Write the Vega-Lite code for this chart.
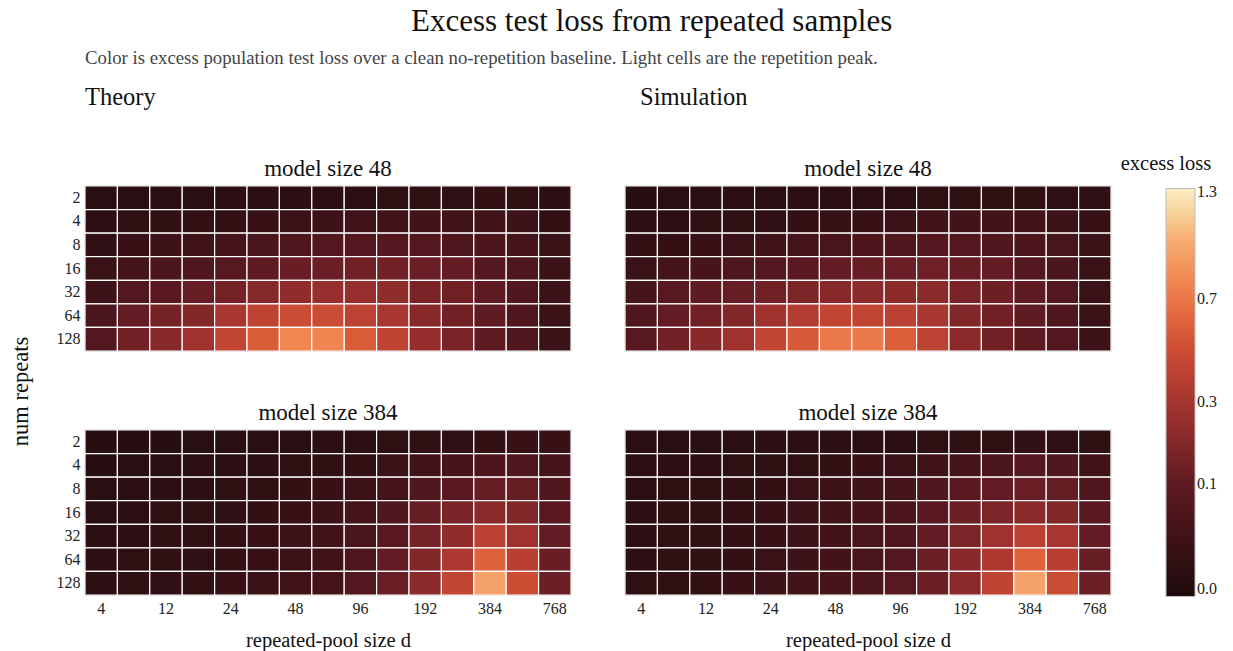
{
"$schema":"https://vega.github.io/schema/vega-lite/v6.json",
"background":"white",
"padding":{"left":8,"top":6,"right":5,"bottom":5},
"title":{"text":"Excess test loss from repeated samples","fontSize":31,"anchor":"middle","dx":39,"offset":11},
"datasets":{"cells":[
{"m":"Theory","s":48,"r":2,"d":4,"v":0.007},{"m":"Theory","s":48,"r":2,"d":8,"v":0.008},{"m":"Theory","s":48,"r":2,"d":12,"v":0.009},{"m":"Theory","s":48,"r":2,"d":16,"v":0.009},{"m":"Theory","s":48,"r":2,"d":24,"v":0.010},{"m":"Theory","s":48,"r":2,"d":32,"v":0.010},{"m":"Theory","s":48,"r":2,"d":48,"v":0.011},{"m":"Theory","s":48,"r":2,"d":64,"v":0.013},{"m":"Theory","s":48,"r":2,"d":96,"v":0.013},{"m":"Theory","s":48,"r":2,"d":128,"v":0.016},{"m":"Theory","s":48,"r":2,"d":192,"v":0.016},{"m":"Theory","s":48,"r":2,"d":256,"v":0.018},{"m":"Theory","s":48,"r":2,"d":384,"v":0.020},{"m":"Theory","s":48,"r":2,"d":512,"v":0.019},{"m":"Theory","s":48,"r":2,"d":768,"v":0.013},
{"m":"Theory","s":48,"r":4,"d":4,"v":0.012},{"m":"Theory","s":48,"r":4,"d":8,"v":0.014},{"m":"Theory","s":48,"r":4,"d":12,"v":0.017},{"m":"Theory","s":48,"r":4,"d":16,"v":0.020},{"m":"Theory","s":48,"r":4,"d":24,"v":0.022},{"m":"Theory","s":48,"r":4,"d":32,"v":0.027},{"m":"Theory","s":48,"r":4,"d":48,"v":0.030},{"m":"Theory","s":48,"r":4,"d":64,"v":0.034},{"m":"Theory","s":48,"r":4,"d":96,"v":0.038},{"m":"Theory","s":48,"r":4,"d":128,"v":0.042},{"m":"Theory","s":48,"r":4,"d":192,"v":0.043},{"m":"Theory","s":48,"r":4,"d":256,"v":0.040},{"m":"Theory","s":48,"r":4,"d":384,"v":0.040},{"m":"Theory","s":48,"r":4,"d":512,"v":0.035},{"m":"Theory","s":48,"r":4,"d":768,"v":0.022},
{"m":"Theory","s":48,"r":8,"d":4,"v":0.018},{"m":"Theory","s":48,"r":8,"d":8,"v":0.028},{"m":"Theory","s":48,"r":8,"d":12,"v":0.035},{"m":"Theory","s":48,"r":8,"d":16,"v":0.040},{"m":"Theory","s":48,"r":8,"d":24,"v":0.048},{"m":"Theory","s":48,"r":8,"d":32,"v":0.058},{"m":"Theory","s":48,"r":8,"d":48,"v":0.065},{"m":"Theory","s":48,"r":8,"d":64,"v":0.075},{"m":"Theory","s":48,"r":8,"d":96,"v":0.080},{"m":"Theory","s":48,"r":8,"d":128,"v":0.080},{"m":"Theory","s":48,"r":8,"d":192,"v":0.075},{"m":"Theory","s":48,"r":8,"d":256,"v":0.065},{"m":"Theory","s":48,"r":8,"d":384,"v":0.063},{"m":"Theory","s":48,"r":8,"d":512,"v":0.050},{"m":"Theory","s":48,"r":8,"d":768,"v":0.030},
{"m":"Theory","s":48,"r":16,"d":4,"v":0.030},{"m":"Theory","s":48,"r":16,"d":8,"v":0.045},{"m":"Theory","s":48,"r":16,"d":12,"v":0.060},{"m":"Theory","s":48,"r":16,"d":16,"v":0.070},{"m":"Theory","s":48,"r":16,"d":24,"v":0.085},{"m":"Theory","s":48,"r":16,"d":32,"v":0.100},{"m":"Theory","s":48,"r":16,"d":48,"v":0.120},{"m":"Theory","s":48,"r":16,"d":64,"v":0.125},{"m":"Theory","s":48,"r":16,"d":96,"v":0.140},{"m":"Theory","s":48,"r":16,"d":128,"v":0.140},{"m":"Theory","s":48,"r":16,"d":192,"v":0.125},{"m":"Theory","s":48,"r":16,"d":256,"v":0.110},{"m":"Theory","s":48,"r":16,"d":384,"v":0.080},{"m":"Theory","s":48,"r":16,"d":512,"v":0.065},{"m":"Theory","s":48,"r":16,"d":768,"v":0.032},
{"m":"Theory","s":48,"r":32,"d":4,"v":0.035},{"m":"Theory","s":48,"r":32,"d":8,"v":0.075},{"m":"Theory","s":48,"r":32,"d":12,"v":0.090},{"m":"Theory","s":48,"r":32,"d":16,"v":0.115},{"m":"Theory","s":48,"r":32,"d":24,"v":0.150},{"m":"Theory","s":48,"r":32,"d":32,"v":0.195},{"m":"Theory","s":48,"r":32,"d":48,"v":0.230},{"m":"Theory","s":48,"r":32,"d":64,"v":0.250},{"m":"Theory","s":48,"r":32,"d":96,"v":0.250},{"m":"Theory","s":48,"r":32,"d":128,"v":0.225},{"m":"Theory","s":48,"r":32,"d":192,"v":0.165},{"m":"Theory","s":48,"r":32,"d":256,"v":0.140},{"m":"Theory","s":48,"r":32,"d":384,"v":0.100},{"m":"Theory","s":48,"r":32,"d":512,"v":0.070},{"m":"Theory","s":48,"r":32,"d":768,"v":0.033},
{"m":"Theory","s":48,"r":64,"d":4,"v":0.060},{"m":"Theory","s":48,"r":64,"d":8,"v":0.110},{"m":"Theory","s":48,"r":64,"d":12,"v":0.150},{"m":"Theory","s":48,"r":64,"d":16,"v":0.190},{"m":"Theory","s":48,"r":64,"d":24,"v":0.320},{"m":"Theory","s":48,"r":64,"d":32,"v":0.410},{"m":"Theory","s":48,"r":64,"d":48,"v":0.470},{"m":"Theory","s":48,"r":64,"d":64,"v":0.470},{"m":"Theory","s":48,"r":64,"d":96,"v":0.400},{"m":"Theory","s":48,"r":64,"d":128,"v":0.320},{"m":"Theory","s":48,"r":64,"d":192,"v":0.200},{"m":"Theory","s":48,"r":64,"d":256,"v":0.140},{"m":"Theory","s":48,"r":64,"d":384,"v":0.100},{"m":"Theory","s":48,"r":64,"d":512,"v":0.070},{"m":"Theory","s":48,"r":64,"d":768,"v":0.032},
{"m":"Theory","s":48,"r":128,"d":4,"v":0.076},{"m":"Theory","s":48,"r":128,"d":8,"v":0.145},{"m":"Theory","s":48,"r":128,"d":12,"v":0.200},{"m":"Theory","s":48,"r":128,"d":16,"v":0.285},{"m":"Theory","s":48,"r":128,"d":24,"v":0.420},{"m":"Theory","s":48,"r":128,"d":32,"v":0.560},{"m":"Theory","s":48,"r":128,"d":48,"v":0.790},{"m":"Theory","s":48,"r":128,"d":64,"v":0.780},{"m":"Theory","s":48,"r":128,"d":96,"v":0.560},{"m":"Theory","s":48,"r":128,"d":128,"v":0.410},{"m":"Theory","s":48,"r":128,"d":192,"v":0.245},{"m":"Theory","s":48,"r":128,"d":256,"v":0.160},{"m":"Theory","s":48,"r":128,"d":384,"v":0.100},{"m":"Theory","s":48,"r":128,"d":512,"v":0.070},{"m":"Theory","s":48,"r":128,"d":768,"v":0.032},
{"m":"Simulation","s":48,"r":2,"d":4,"v":0.006},{"m":"Simulation","s":48,"r":2,"d":8,"v":0.008},{"m":"Simulation","s":48,"r":2,"d":12,"v":0.009},{"m":"Simulation","s":48,"r":2,"d":16,"v":0.010},{"m":"Simulation","s":48,"r":2,"d":24,"v":0.009},{"m":"Simulation","s":48,"r":2,"d":32,"v":0.010},{"m":"Simulation","s":48,"r":2,"d":48,"v":0.010},{"m":"Simulation","s":48,"r":2,"d":64,"v":0.012},{"m":"Simulation","s":48,"r":2,"d":96,"v":0.012},{"m":"Simulation","s":48,"r":2,"d":128,"v":0.014},{"m":"Simulation","s":48,"r":2,"d":192,"v":0.015},{"m":"Simulation","s":48,"r":2,"d":256,"v":0.016},{"m":"Simulation","s":48,"r":2,"d":384,"v":0.017},{"m":"Simulation","s":48,"r":2,"d":512,"v":0.018},{"m":"Simulation","s":48,"r":2,"d":768,"v":0.018},
{"m":"Simulation","s":48,"r":4,"d":4,"v":0.013},{"m":"Simulation","s":48,"r":4,"d":8,"v":0.013},{"m":"Simulation","s":48,"r":4,"d":12,"v":0.014},{"m":"Simulation","s":48,"r":4,"d":16,"v":0.016},{"m":"Simulation","s":48,"r":4,"d":24,"v":0.018},{"m":"Simulation","s":48,"r":4,"d":32,"v":0.022},{"m":"Simulation","s":48,"r":4,"d":48,"v":0.026},{"m":"Simulation","s":48,"r":4,"d":64,"v":0.028},{"m":"Simulation","s":48,"r":4,"d":96,"v":0.033},{"m":"Simulation","s":48,"r":4,"d":128,"v":0.040},{"m":"Simulation","s":48,"r":4,"d":192,"v":0.044},{"m":"Simulation","s":48,"r":4,"d":256,"v":0.044},{"m":"Simulation","s":48,"r":4,"d":384,"v":0.040},{"m":"Simulation","s":48,"r":4,"d":512,"v":0.035},{"m":"Simulation","s":48,"r":4,"d":768,"v":0.027},
{"m":"Simulation","s":48,"r":8,"d":4,"v":0.020},{"m":"Simulation","s":48,"r":8,"d":8,"v":0.023},{"m":"Simulation","s":48,"r":8,"d":12,"v":0.027},{"m":"Simulation","s":48,"r":8,"d":16,"v":0.032},{"m":"Simulation","s":48,"r":8,"d":24,"v":0.040},{"m":"Simulation","s":48,"r":8,"d":32,"v":0.048},{"m":"Simulation","s":48,"r":8,"d":48,"v":0.055},{"m":"Simulation","s":48,"r":8,"d":64,"v":0.063},{"m":"Simulation","s":48,"r":8,"d":96,"v":0.068},{"m":"Simulation","s":48,"r":8,"d":128,"v":0.080},{"m":"Simulation","s":48,"r":8,"d":192,"v":0.075},{"m":"Simulation","s":48,"r":8,"d":256,"v":0.072},{"m":"Simulation","s":48,"r":8,"d":384,"v":0.063},{"m":"Simulation","s":48,"r":8,"d":512,"v":0.055},{"m":"Simulation","s":48,"r":8,"d":768,"v":0.032},
{"m":"Simulation","s":48,"r":16,"d":4,"v":0.030},{"m":"Simulation","s":48,"r":16,"d":8,"v":0.045},{"m":"Simulation","s":48,"r":16,"d":12,"v":0.050},{"m":"Simulation","s":48,"r":16,"d":16,"v":0.065},{"m":"Simulation","s":48,"r":16,"d":24,"v":0.075},{"m":"Simulation","s":48,"r":16,"d":32,"v":0.090},{"m":"Simulation","s":48,"r":16,"d":48,"v":0.110},{"m":"Simulation","s":48,"r":16,"d":64,"v":0.115},{"m":"Simulation","s":48,"r":16,"d":96,"v":0.125},{"m":"Simulation","s":48,"r":16,"d":128,"v":0.135},{"m":"Simulation","s":48,"r":16,"d":192,"v":0.115},{"m":"Simulation","s":48,"r":16,"d":256,"v":0.110},{"m":"Simulation","s":48,"r":16,"d":384,"v":0.080},{"m":"Simulation","s":48,"r":16,"d":512,"v":0.060},{"m":"Simulation","s":48,"r":16,"d":768,"v":0.030},
{"m":"Simulation","s":48,"r":32,"d":4,"v":0.050},{"m":"Simulation","s":48,"r":32,"d":8,"v":0.085},{"m":"Simulation","s":48,"r":32,"d":12,"v":0.100},{"m":"Simulation","s":48,"r":32,"d":16,"v":0.115},{"m":"Simulation","s":48,"r":32,"d":24,"v":0.140},{"m":"Simulation","s":48,"r":32,"d":32,"v":0.170},{"m":"Simulation","s":48,"r":32,"d":48,"v":0.200},{"m":"Simulation","s":48,"r":32,"d":64,"v":0.210},{"m":"Simulation","s":48,"r":32,"d":96,"v":0.220},{"m":"Simulation","s":48,"r":32,"d":128,"v":0.210},{"m":"Simulation","s":48,"r":32,"d":192,"v":0.160},{"m":"Simulation","s":48,"r":32,"d":256,"v":0.130},{"m":"Simulation","s":48,"r":32,"d":384,"v":0.100},{"m":"Simulation","s":48,"r":32,"d":512,"v":0.075},{"m":"Simulation","s":48,"r":32,"d":768,"v":0.030},
{"m":"Simulation","s":48,"r":64,"d":4,"v":0.070},{"m":"Simulation","s":48,"r":64,"d":8,"v":0.110},{"m":"Simulation","s":48,"r":64,"d":12,"v":0.140},{"m":"Simulation","s":48,"r":64,"d":16,"v":0.185},{"m":"Simulation","s":48,"r":64,"d":24,"v":0.280},{"m":"Simulation","s":48,"r":64,"d":32,"v":0.360},{"m":"Simulation","s":48,"r":64,"d":48,"v":0.420},{"m":"Simulation","s":48,"r":64,"d":64,"v":0.420},{"m":"Simulation","s":48,"r":64,"d":96,"v":0.390},{"m":"Simulation","s":48,"r":64,"d":128,"v":0.320},{"m":"Simulation","s":48,"r":64,"d":192,"v":0.185},{"m":"Simulation","s":48,"r":64,"d":256,"v":0.140},{"m":"Simulation","s":48,"r":64,"d":384,"v":0.100},{"m":"Simulation","s":48,"r":64,"d":512,"v":0.070},{"m":"Simulation","s":48,"r":64,"d":768,"v":0.030},
{"m":"Simulation","s":48,"r":128,"d":4,"v":0.085},{"m":"Simulation","s":48,"r":128,"d":8,"v":0.140},{"m":"Simulation","s":48,"r":128,"d":12,"v":0.200},{"m":"Simulation","s":48,"r":128,"d":16,"v":0.280},{"m":"Simulation","s":48,"r":128,"d":24,"v":0.420},{"m":"Simulation","s":48,"r":128,"d":32,"v":0.550},{"m":"Simulation","s":48,"r":128,"d":48,"v":0.720},{"m":"Simulation","s":48,"r":128,"d":64,"v":0.720},{"m":"Simulation","s":48,"r":128,"d":96,"v":0.570},{"m":"Simulation","s":48,"r":128,"d":128,"v":0.400},{"m":"Simulation","s":48,"r":128,"d":192,"v":0.210},{"m":"Simulation","s":48,"r":128,"d":256,"v":0.140},{"m":"Simulation","s":48,"r":128,"d":384,"v":0.100},{"m":"Simulation","s":48,"r":128,"d":512,"v":0.075},{"m":"Simulation","s":48,"r":128,"d":768,"v":0.035},
{"m":"Theory","s":384,"r":2,"d":4,"v":0.005},{"m":"Theory","s":384,"r":2,"d":8,"v":0.006},{"m":"Theory","s":384,"r":2,"d":12,"v":0.006},{"m":"Theory","s":384,"r":2,"d":16,"v":0.007},{"m":"Theory","s":384,"r":2,"d":24,"v":0.008},{"m":"Theory","s":384,"r":2,"d":32,"v":0.009},{"m":"Theory","s":384,"r":2,"d":48,"v":0.009},{"m":"Theory","s":384,"r":2,"d":64,"v":0.010},{"m":"Theory","s":384,"r":2,"d":96,"v":0.012},{"m":"Theory","s":384,"r":2,"d":128,"v":0.014},{"m":"Theory","s":384,"r":2,"d":192,"v":0.016},{"m":"Theory","s":384,"r":2,"d":256,"v":0.018},{"m":"Theory","s":384,"r":2,"d":384,"v":0.022},{"m":"Theory","s":384,"r":2,"d":512,"v":0.027},{"m":"Theory","s":384,"r":2,"d":768,"v":0.027},
{"m":"Theory","s":384,"r":4,"d":4,"v":0.006},{"m":"Theory","s":384,"r":4,"d":8,"v":0.008},{"m":"Theory","s":384,"r":4,"d":12,"v":0.009},{"m":"Theory","s":384,"r":4,"d":16,"v":0.010},{"m":"Theory","s":384,"r":4,"d":24,"v":0.011},{"m":"Theory","s":384,"r":4,"d":32,"v":0.012},{"m":"Theory","s":384,"r":4,"d":48,"v":0.015},{"m":"Theory","s":384,"r":4,"d":64,"v":0.017},{"m":"Theory","s":384,"r":4,"d":96,"v":0.022},{"m":"Theory","s":384,"r":4,"d":128,"v":0.032},{"m":"Theory","s":384,"r":4,"d":192,"v":0.040},{"m":"Theory","s":384,"r":4,"d":256,"v":0.048},{"m":"Theory","s":384,"r":4,"d":384,"v":0.063},{"m":"Theory","s":384,"r":4,"d":512,"v":0.070},{"m":"Theory","s":384,"r":4,"d":768,"v":0.048},
{"m":"Theory","s":384,"r":8,"d":4,"v":0.008},{"m":"Theory","s":384,"r":8,"d":8,"v":0.010},{"m":"Theory","s":384,"r":8,"d":12,"v":0.012},{"m":"Theory","s":384,"r":8,"d":16,"v":0.012},{"m":"Theory","s":384,"r":8,"d":24,"v":0.015},{"m":"Theory","s":384,"r":8,"d":32,"v":0.017},{"m":"Theory","s":384,"r":8,"d":48,"v":0.022},{"m":"Theory","s":384,"r":8,"d":64,"v":0.027},{"m":"Theory","s":384,"r":8,"d":96,"v":0.034},{"m":"Theory","s":384,"r":8,"d":128,"v":0.048},{"m":"Theory","s":384,"r":8,"d":192,"v":0.070},{"m":"Theory","s":384,"r":8,"d":256,"v":0.090},{"m":"Theory","s":384,"r":8,"d":384,"v":0.115},{"m":"Theory","s":384,"r":8,"d":512,"v":0.115},{"m":"Theory","s":384,"r":8,"d":768,"v":0.070},
{"m":"Theory","s":384,"r":16,"d":4,"v":0.009},{"m":"Theory","s":384,"r":16,"d":8,"v":0.011},{"m":"Theory","s":384,"r":16,"d":12,"v":0.014},{"m":"Theory","s":384,"r":16,"d":16,"v":0.016},{"m":"Theory","s":384,"r":16,"d":24,"v":0.018},{"m":"Theory","s":384,"r":16,"d":32,"v":0.022},{"m":"Theory","s":384,"r":16,"d":48,"v":0.028},{"m":"Theory","s":384,"r":16,"d":64,"v":0.034},{"m":"Theory","s":384,"r":16,"d":96,"v":0.048},{"m":"Theory","s":384,"r":16,"d":128,"v":0.070},{"m":"Theory","s":384,"r":16,"d":192,"v":0.115},{"m":"Theory","s":384,"r":16,"d":256,"v":0.165},{"m":"Theory","s":384,"r":16,"d":384,"v":0.210},{"m":"Theory","s":384,"r":16,"d":512,"v":0.185},{"m":"Theory","s":384,"r":16,"d":768,"v":0.090},
{"m":"Theory","s":384,"r":32,"d":4,"v":0.010},{"m":"Theory","s":384,"r":32,"d":8,"v":0.013},{"m":"Theory","s":384,"r":32,"d":12,"v":0.016},{"m":"Theory","s":384,"r":32,"d":16,"v":0.017},{"m":"Theory","s":384,"r":32,"d":24,"v":0.022},{"m":"Theory","s":384,"r":32,"d":32,"v":0.027},{"m":"Theory","s":384,"r":32,"d":48,"v":0.034},{"m":"Theory","s":384,"r":32,"d":64,"v":0.040},{"m":"Theory","s":384,"r":32,"d":96,"v":0.058},{"m":"Theory","s":384,"r":32,"d":128,"v":0.090},{"m":"Theory","s":384,"r":32,"d":192,"v":0.150},{"m":"Theory","s":384,"r":32,"d":256,"v":0.230},{"m":"Theory","s":384,"r":32,"d":384,"v":0.390},{"m":"Theory","s":384,"r":32,"d":512,"v":0.280},{"m":"Theory","s":384,"r":32,"d":768,"v":0.110},
{"m":"Theory","s":384,"r":64,"d":4,"v":0.010},{"m":"Theory","s":384,"r":64,"d":8,"v":0.014},{"m":"Theory","s":384,"r":64,"d":12,"v":0.016},{"m":"Theory","s":384,"r":64,"d":16,"v":0.018},{"m":"Theory","s":384,"r":64,"d":24,"v":0.022},{"m":"Theory","s":384,"r":64,"d":32,"v":0.028},{"m":"Theory","s":384,"r":64,"d":48,"v":0.034},{"m":"Theory","s":384,"r":64,"d":64,"v":0.040},{"m":"Theory","s":384,"r":64,"d":96,"v":0.066},{"m":"Theory","s":384,"r":64,"d":128,"v":0.110},{"m":"Theory","s":384,"r":64,"d":192,"v":0.185},{"m":"Theory","s":384,"r":64,"d":256,"v":0.330},{"m":"Theory","s":384,"r":64,"d":384,"v":0.600},{"m":"Theory","s":384,"r":64,"d":512,"v":0.380},{"m":"Theory","s":384,"r":64,"d":768,"v":0.120},
{"m":"Theory","s":384,"r":128,"d":4,"v":0.011},{"m":"Theory","s":384,"r":128,"d":8,"v":0.015},{"m":"Theory","s":384,"r":128,"d":12,"v":0.018},{"m":"Theory","s":384,"r":128,"d":16,"v":0.022},{"m":"Theory","s":384,"r":128,"d":24,"v":0.027},{"m":"Theory","s":384,"r":128,"d":32,"v":0.032},{"m":"Theory","s":384,"r":128,"d":48,"v":0.040},{"m":"Theory","s":384,"r":128,"d":64,"v":0.048},{"m":"Theory","s":384,"r":128,"d":96,"v":0.075},{"m":"Theory","s":384,"r":128,"d":128,"v":0.125},{"m":"Theory","s":384,"r":128,"d":192,"v":0.210},{"m":"Theory","s":384,"r":128,"d":256,"v":0.420},{"m":"Theory","s":384,"r":128,"d":384,"v":0.950},{"m":"Theory","s":384,"r":128,"d":512,"v":0.480},{"m":"Theory","s":384,"r":128,"d":768,"v":0.130},
{"m":"Simulation","s":384,"r":2,"d":4,"v":0.008},{"m":"Simulation","s":384,"r":2,"d":8,"v":0.008},{"m":"Simulation","s":384,"r":2,"d":12,"v":0.009},{"m":"Simulation","s":384,"r":2,"d":16,"v":0.009},{"m":"Simulation","s":384,"r":2,"d":24,"v":0.010},{"m":"Simulation","s":384,"r":2,"d":32,"v":0.011},{"m":"Simulation","s":384,"r":2,"d":48,"v":0.011},{"m":"Simulation","s":384,"r":2,"d":64,"v":0.012},{"m":"Simulation","s":384,"r":2,"d":96,"v":0.012},{"m":"Simulation","s":384,"r":2,"d":128,"v":0.014},{"m":"Simulation","s":384,"r":2,"d":192,"v":0.015},{"m":"Simulation","s":384,"r":2,"d":256,"v":0.016},{"m":"Simulation","s":384,"r":2,"d":384,"v":0.018},{"m":"Simulation","s":384,"r":2,"d":512,"v":0.018},{"m":"Simulation","s":384,"r":2,"d":768,"v":0.015},
{"m":"Simulation","s":384,"r":4,"d":4,"v":0.011},{"m":"Simulation","s":384,"r":4,"d":8,"v":0.013},{"m":"Simulation","s":384,"r":4,"d":12,"v":0.013},{"m":"Simulation","s":384,"r":4,"d":16,"v":0.014},{"m":"Simulation","s":384,"r":4,"d":24,"v":0.016},{"m":"Simulation","s":384,"r":4,"d":32,"v":0.019},{"m":"Simulation","s":384,"r":4,"d":48,"v":0.022},{"m":"Simulation","s":384,"r":4,"d":64,"v":0.027},{"m":"Simulation","s":384,"r":4,"d":96,"v":0.029},{"m":"Simulation","s":384,"r":4,"d":128,"v":0.042},{"m":"Simulation","s":384,"r":4,"d":192,"v":0.050},{"m":"Simulation","s":384,"r":4,"d":256,"v":0.058},{"m":"Simulation","s":384,"r":4,"d":384,"v":0.075},{"m":"Simulation","s":384,"r":4,"d":512,"v":0.070},{"m":"Simulation","s":384,"r":4,"d":768,"v":0.042},
{"m":"Simulation","s":384,"r":8,"d":4,"v":0.011},{"m":"Simulation","s":384,"r":8,"d":8,"v":0.014},{"m":"Simulation","s":384,"r":8,"d":12,"v":0.016},{"m":"Simulation","s":384,"r":8,"d":16,"v":0.019},{"m":"Simulation","s":384,"r":8,"d":24,"v":0.022},{"m":"Simulation","s":384,"r":8,"d":32,"v":0.029},{"m":"Simulation","s":384,"r":8,"d":48,"v":0.035},{"m":"Simulation","s":384,"r":8,"d":64,"v":0.042},{"m":"Simulation","s":384,"r":8,"d":96,"v":0.050},{"m":"Simulation","s":384,"r":8,"d":128,"v":0.070},{"m":"Simulation","s":384,"r":8,"d":192,"v":0.090},{"m":"Simulation","s":384,"r":8,"d":256,"v":0.110},{"m":"Simulation","s":384,"r":8,"d":384,"v":0.125},{"m":"Simulation","s":384,"r":8,"d":512,"v":0.115},{"m":"Simulation","s":384,"r":8,"d":768,"v":0.070},
{"m":"Simulation","s":384,"r":16,"d":4,"v":0.013},{"m":"Simulation","s":384,"r":16,"d":8,"v":0.016},{"m":"Simulation","s":384,"r":16,"d":12,"v":0.019},{"m":"Simulation","s":384,"r":16,"d":16,"v":0.022},{"m":"Simulation","s":384,"r":16,"d":24,"v":0.027},{"m":"Simulation","s":384,"r":16,"d":32,"v":0.034},{"m":"Simulation","s":384,"r":16,"d":48,"v":0.042},{"m":"Simulation","s":384,"r":16,"d":64,"v":0.050},{"m":"Simulation","s":384,"r":16,"d":96,"v":0.063},{"m":"Simulation","s":384,"r":16,"d":128,"v":0.090},{"m":"Simulation","s":384,"r":16,"d":192,"v":0.130},{"m":"Simulation","s":384,"r":16,"d":256,"v":0.170},{"m":"Simulation","s":384,"r":16,"d":384,"v":0.210},{"m":"Simulation","s":384,"r":16,"d":512,"v":0.185},{"m":"Simulation","s":384,"r":16,"d":768,"v":0.090},
{"m":"Simulation","s":384,"r":32,"d":4,"v":0.013},{"m":"Simulation","s":384,"r":32,"d":8,"v":0.016},{"m":"Simulation","s":384,"r":32,"d":12,"v":0.019},{"m":"Simulation","s":384,"r":32,"d":16,"v":0.022},{"m":"Simulation","s":384,"r":32,"d":24,"v":0.027},{"m":"Simulation","s":384,"r":32,"d":32,"v":0.035},{"m":"Simulation","s":384,"r":32,"d":48,"v":0.044},{"m":"Simulation","s":384,"r":32,"d":64,"v":0.056},{"m":"Simulation","s":384,"r":32,"d":96,"v":0.070},{"m":"Simulation","s":384,"r":32,"d":128,"v":0.110},{"m":"Simulation","s":384,"r":32,"d":192,"v":0.170},{"m":"Simulation","s":384,"r":32,"d":256,"v":0.280},{"m":"Simulation","s":384,"r":32,"d":384,"v":0.390},{"m":"Simulation","s":384,"r":32,"d":512,"v":0.310},{"m":"Simulation","s":384,"r":32,"d":768,"v":0.110},
{"m":"Simulation","s":384,"r":64,"d":4,"v":0.013},{"m":"Simulation","s":384,"r":64,"d":8,"v":0.016},{"m":"Simulation","s":384,"r":64,"d":12,"v":0.019},{"m":"Simulation","s":384,"r":64,"d":16,"v":0.022},{"m":"Simulation","s":384,"r":64,"d":24,"v":0.029},{"m":"Simulation","s":384,"r":64,"d":32,"v":0.035},{"m":"Simulation","s":384,"r":64,"d":48,"v":0.044},{"m":"Simulation","s":384,"r":64,"d":64,"v":0.055},{"m":"Simulation","s":384,"r":64,"d":96,"v":0.075},{"m":"Simulation","s":384,"r":64,"d":128,"v":0.125},{"m":"Simulation","s":384,"r":64,"d":192,"v":0.200},{"m":"Simulation","s":384,"r":64,"d":256,"v":0.340},{"m":"Simulation","s":384,"r":64,"d":384,"v":0.600},{"m":"Simulation","s":384,"r":64,"d":512,"v":0.380},{"m":"Simulation","s":384,"r":64,"d":768,"v":0.115},
{"m":"Simulation","s":384,"r":128,"d":4,"v":0.014},{"m":"Simulation","s":384,"r":128,"d":8,"v":0.019},{"m":"Simulation","s":384,"r":128,"d":12,"v":0.022},{"m":"Simulation","s":384,"r":128,"d":16,"v":0.027},{"m":"Simulation","s":384,"r":128,"d":24,"v":0.035},{"m":"Simulation","s":384,"r":128,"d":32,"v":0.042},{"m":"Simulation","s":384,"r":128,"d":48,"v":0.050},{"m":"Simulation","s":384,"r":128,"d":64,"v":0.058},{"m":"Simulation","s":384,"r":128,"d":96,"v":0.085},{"m":"Simulation","s":384,"r":128,"d":128,"v":0.130},{"m":"Simulation","s":384,"r":128,"d":192,"v":0.210},{"m":"Simulation","s":384,"r":128,"d":256,"v":0.410},{"m":"Simulation","s":384,"r":128,"d":384,"v":0.950},{"m":"Simulation","s":384,"r":128,"d":512,"v":0.470},{"m":"Simulation","s":384,"r":128,"d":768,"v":0.130}
]},
"data":{"name":"cells"},
"vconcat":[{
 "title":{"text":"Color is excess population test loss over a clean no-repetition baseline. Light cells are the repetition peak.","anchor":"start","frame":"group","fontSize":18.8,"color":"#444","offset":17},
 "spacing":50,
 "resolve":{"scale":{"color":"shared"}},
 "hconcat":[
  {"title":{"text":"Theory","anchor":"start","frame":"group","fontSize":24.5,"offset":47},
   "bounds":"flush","spacing":79,
   "resolve":{"scale":{"color":"shared"}},
   "vconcat":[
    {"title":{"text":"model size 48","fontSize":23,"offset":4},"width":486,"height":165,
     "transform":[{"filter":"datum.m == 'Theory' && datum.s == 48"}],
     "mark":{"type":"rect","stroke":"white","strokeWidth":1.2},
     "encoding":{
      "x":{"field":"d","type":"ordinal","axis":null},
      "y":{"field":"r","type":"ordinal","axis":{"title":"num repeats","titleY":205,"titleFontSize":22.5,"titlePadding":24}},
      "color":{"field":"v","type":"quantitative","title":"excess loss","scale":{"type":"sqrt","domain":[0,0.0206,0.0825,0.1856,0.33,0.5156,0.7425,1.0106,1.32],"range":["#1c0a0c","#321014","#561820","#822729","#ac3831","#d45234","#ee7d4b","#f7ad72","#fdefc6"]},"legend":{"values":[0,0.1,0.3,0.7,1.3],"format":".1f","orient":"none","legendX":1036,"legendY":-32}}
     }},
    {"title":{"text":"model size 384","fontSize":23,"offset":4},"width":486,"height":165,
     "transform":[{"filter":"datum.m == 'Theory' && datum.s == 384"}],
     "mark":{"type":"rect","stroke":"white","strokeWidth":1.2},
     "encoding":{
      "x":{"field":"d","type":"ordinal","axis":{"values":[4,12,24,48,96,192,384,768],"labelAngle":0,"title":"repeated-pool size d","titleFontSize":20.5,"titlePadding":14}},
      "y":{"field":"r","type":"ordinal","axis":{"title":null}},
      "color":{"field":"v","type":"quantitative","title":"excess loss","scale":{"type":"sqrt","domain":[0,0.0206,0.0825,0.1856,0.33,0.5156,0.7425,1.0106,1.32],"range":["#1c0a0c","#321014","#561820","#822729","#ac3831","#d45234","#ee7d4b","#f7ad72","#fdefc6"]},"legend":{"values":[0,0.1,0.3,0.7,1.3],"format":".1f","orient":"none","legendX":1036,"legendY":-32}}
     }}
   ]},
  {"title":{"text":"Simulation","anchor":"start","frame":"group","fontSize":24.5,"offset":47,"dx":15},
   "bounds":"flush","spacing":79,
   "resolve":{"scale":{"color":"shared"}},
   "vconcat":[
    {"title":{"text":"model size 48","fontSize":23,"offset":4},"width":486,"height":165,
     "transform":[{"filter":"datum.m == 'Simulation' && datum.s == 48"}],
     "mark":{"type":"rect","stroke":"white","strokeWidth":1.2},
     "encoding":{
      "x":{"field":"d","type":"ordinal","axis":null},
      "y":{"field":"r","type":"ordinal","axis":null},
      "color":{"field":"v","type":"quantitative","title":"excess loss","scale":{"type":"sqrt","domain":[0,0.0206,0.0825,0.1856,0.33,0.5156,0.7425,1.0106,1.32],"range":["#1c0a0c","#321014","#561820","#822729","#ac3831","#d45234","#ee7d4b","#f7ad72","#fdefc6"]},"legend":{"values":[0,0.1,0.3,0.7,1.3],"format":".1f","orient":"none","legendX":1036,"legendY":-32}}
     }},
    {"title":{"text":"model size 384","fontSize":23,"offset":4},"width":486,"height":165,
     "transform":[{"filter":"datum.m == 'Simulation' && datum.s == 384"}],
     "mark":{"type":"rect","stroke":"white","strokeWidth":1.2},
     "encoding":{
      "x":{"field":"d","type":"ordinal","axis":{"values":[4,12,24,48,96,192,384,768],"labelAngle":0,"title":"repeated-pool size d","titleFontSize":20.5,"titlePadding":14}},
      "y":{"field":"r","type":"ordinal","axis":null},
      "color":{"field":"v","type":"quantitative","title":"excess loss","scale":{"type":"sqrt","domain":[0,0.0206,0.0825,0.1856,0.33,0.5156,0.7425,1.0106,1.32],"range":["#1c0a0c","#321014","#561820","#822729","#ac3831","#d45234","#ee7d4b","#f7ad72","#fdefc6"]},"legend":{"values":[0,0.1,0.3,0.7,1.3],"format":".1f","orient":"none","legendX":1036,"legendY":-32}}
     }}
   ]}
 ]
}],
"resolve":{"scale":{"color":"shared"}},
"config":{
 "font":"Liberation Serif",
 "view":{"stroke":"#c4c4c4","strokeWidth":1.5},
 "title":{"font":"Liberation Serif","fontWeight":"normal","color":"#111"},
 "axis":{"domain":false,"ticks":false,"grid":false,"labelFont":"Liberation Serif","labelFontSize":16,"labelColor":"#222","labelPadding":5,"titleFont":"Liberation Serif","titleFontWeight":"normal","titleColor":"#111"},
 "legend":{"gradientLength":408,"gradientThickness":29,"gradientStrokeColor":"#bdbdbd","gradientStrokeWidth":1,"labelFont":"Liberation Serif","labelFontSize":16,"labelColor":"#222","labelOffset":9,"labelBaseline":"middle","titleFont":"Liberation Serif","titleFontSize":20.5,"titleFontWeight":"normal","titleColor":"#111","titlePadding":14,"titleAnchor":"start","titleAlign":"center"}
}
}
